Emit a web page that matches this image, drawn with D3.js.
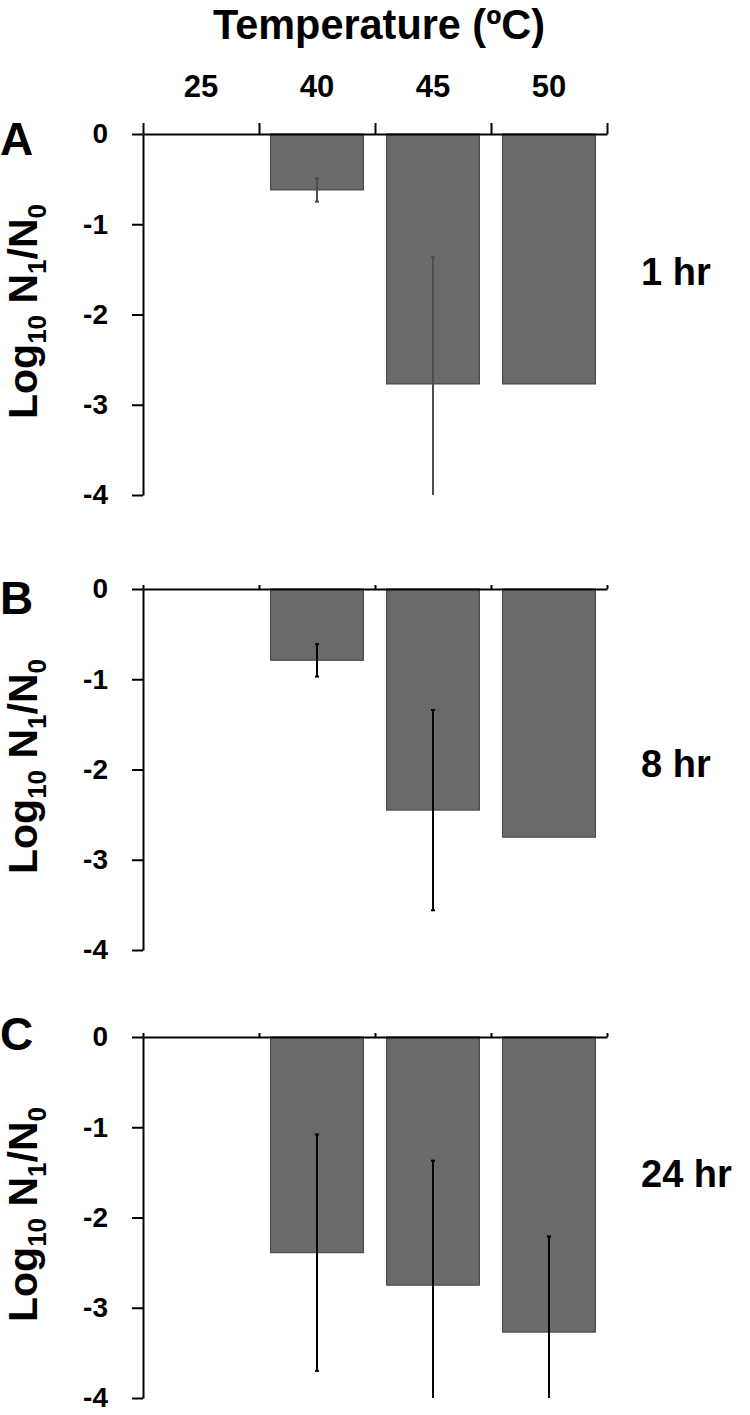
<!DOCTYPE html>
<html>
<head>
<meta charset="utf-8">
<script src="https://cdn.jsdelivr.net/npm/d3@7"></script>
<style>
  body { margin: 0; background: #fff; }
  svg text { font-family: 'Liberation Sans', Arial, sans-serif; font-weight: bold; fill: #000; }
</style>
</head>
<body>
<svg id="chart" width="750" height="1415"></svg>
<script>
// data
const temps = ['25', '40', '45', '50']
const hours = ['1 hr', '8 hr', '24 hr']
const panelLetters = ['A', 'B', 'C']
const yTicks = [0, -1, -2, -3, -4]

const means1hr = [0, -0.62, -2.77, -2.77]
const err1hr = [0, 0.13, 1.41, 0]
const means8hr = [0, -0.79, -2.45, -2.75]
const err8hr = [0, 0.18, 1.11, 0]
const means24hr = [0, -2.39, -2.75, -3.27]
const err24hr = [0, 1.31, 1.38, 1.06]

const seriesMeans = [means1hr, means8hr, means24hr]
const seriesErr = [err1hr, err8hr, err24hr]

// layout
const left = 143
const right = 607
const plotH = 361
const panelTops = [134, 589, 1037]
const letterDy = [21, 25, 13]
const hourDy = [151, 188, 150]
const topTick = [11, 4, 4]
const errColor = ['#4d4d4d', '#000', '#000']

const svg = d3.select('#chart')

const xCat = d3.scaleBand().domain(temps).range([left, right])
const xBar = d3.scaleBand().domain(temps).range([left, right]).paddingInner(0.2).paddingOuter(0.1)
const xEdge = d3.scaleLinear().domain([0, temps.length]).range([left, right])

svg.append('text')
	.attr('x', 379)
	.attr('y', 39)
	.attr('text-anchor', 'middle')
	.attr('font-size', 42)
	.attr('textLength', 332)
	.attr('lengthAdjust', 'spacingAndGlyphs')
	.text('Temperature (ºC)')

svg.selectAll('.cat')
	.data(temps)
	.enter()
	.append('text')
	.attr('class', 'cat')
	.attr('x', (d) => xCat(d) + xCat.bandwidth() / 2)
	.attr('y', 97)
	.attr('text-anchor', 'middle')
	.attr('font-size', 31)
	.text((d) => d)

panelTops.forEach((top, i) => {
	const y = d3.scaleLinear().domain([0, -4]).range([top, top + plotH])
	const g = svg.append('g')
	const means = seriesMeans[i]
	const errs = seriesErr[i]
	const rows = temps.map((t, k) => ({ t, v: means[k], e: errs[k] }))

	// bars
	g.selectAll('rect')
		.data(rows.filter((d) => d.v !== 0))
		.enter()
		.append('rect')
		.attr('x', (d) => xBar(d.t))
		.attr('y', y(0))
		.attr('width', xBar.bandwidth())
		.attr('height', (d) => y(d.v) - y(0))
		.attr('fill', '#6a6a6a')
		.attr('stroke', '#3c3c3c')
		.attr('stroke-width', 1)

	// error bars, clipped at the bottom of the axis
	const eb = rows.filter((d) => d.e > 0)
	const cx = (d) => xBar(d.t) + xBar.bandwidth() / 2
	const hi = (d) => y(d.v + d.e)
	const lo = (d) => y(Math.max(d.v - d.e, -4))
	g.selectAll('.err')
		.data(eb)
		.enter()
		.append('line')
		.attr('class', 'err')
		.attr('x1', cx).attr('x2', cx)
		.attr('y1', hi).attr('y2', lo)
		.attr('stroke', errColor[i])
		.attr('stroke-width', 2)
	g.selectAll('.caphi')
		.data(eb)
		.enter()
		.append('line')
		.attr('class', 'caphi')
		.attr('x1', (d) => cx(d) - 2).attr('x2', (d) => cx(d) + 2)
		.attr('y1', hi).attr('y2', hi)
		.attr('stroke', errColor[i])
		.attr('stroke-width', 2)
	g.selectAll('.caplo')
		.data(eb.filter((d) => d.v - d.e > -4))
		.enter()
		.append('line')
		.attr('class', 'caplo')
		.attr('x1', (d) => cx(d) - 2).attr('x2', (d) => cx(d) + 2)
		.attr('y1', lo).attr('y2', lo)
		.attr('stroke', errColor[i])
		.attr('stroke-width', 2)

	// top axis at zero with ticks on band edges
	const ax = g.append('g')
		.attr('transform', `translate(0, ${y(0)})`)
		.call(d3.axisTop(xEdge).tickValues(d3.range(temps.length + 1)).tickSize(topTick[i]).tickSizeOuter(0).tickFormat(''))
	ax.select('.domain').attr('stroke', '#000').attr('stroke-width', 2)
	ax.selectAll('.tick line').attr('stroke', '#000').attr('stroke-width', 2)

	// left axis
	const ay = g.append('g')
		.attr('transform', `translate(${left}, 0)`)
		.call(d3.axisLeft(y).tickValues(yTicks).tickSize(11).tickSizeOuter(0).tickPadding(24).tickFormat(d3.format('d')))
	ay.select('.domain').attr('stroke', '#000').attr('stroke-width', 2)
	ay.selectAll('.tick line').attr('stroke', '#000').attr('stroke-width', 2)
	ay.selectAll('.tick text')
		.attr('font-size', 28)
		.attr('font-family', "'Liberation Sans', Arial, sans-serif")
		.attr('font-weight', 'bold')
		.attr('fill', '#000')
		.text((d) => (d === 0 ? '0' : '-' + Math.abs(d)))

	// y label: Log10 N1/N0
	const lab = g.append('text')
		.attr('transform', `translate(37, ${top + plotH / 2 - 3}) rotate(-90)`)
		.attr('text-anchor', 'middle')
		.attr('font-size', 41)
	lab.append('tspan').text('Log')
	lab.append('tspan').attr('font-size', 26).attr('dy', 9).text('10')
	lab.append('tspan').attr('dy', -9).text(' N')
	lab.append('tspan').attr('font-size', 26).attr('dy', 9).text('1')
	lab.append('tspan').attr('dy', -9).text('/N')
	lab.append('tspan').attr('font-size', 26).attr('dy', 9).text('0')

	svg.append('text')
		.attr('x', 0)
		.attr('y', top + letterDy[i])
		.attr('font-size', 46)
		.text(panelLetters[i])

	svg.append('text')
		.attr('x', 641)
		.attr('y', top + hourDy[i])
		.attr('font-size', 38)
		.text(hours[i])
})
</script>
</body>
</html>
